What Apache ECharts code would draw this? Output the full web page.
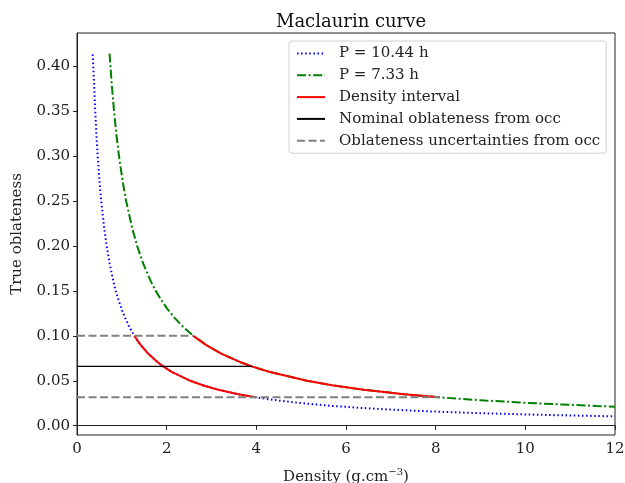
<!DOCTYPE html>
<html>
<head>
<meta charset="utf-8">
<script src="https://cdn.jsdelivr.net/npm/echarts@6/dist/echarts.min.js"></script>
<style>html,body{margin:0;padding:0;background:#fff}#c{width:625px;height:483px}</style>
</head>
<body>
<div id="c"></div>
<script>
// P = 10.44 h curve: [density, oblateness]
const densityP1044 = [0.35,0.3817,0.4071,0.4373,0.4613,0.5053,0.5404,0.6062,0.6612,0.7292,0.8144,0.866,0.925,0.993,1.0724,1.1663,1.279,1.4182,1.5906,1.8142,1.922,2.1123,2.5296,2.805,3.152,3.599,3.982,4.491,5.029,5.709,6.279,6.976,7.849,8.966,10.443,12];
const oblatenessP1044 = [0.413,0.38,0.35,0.32,0.30,0.27,0.25,0.22,0.20,0.18,0.16,0.15,0.14,0.13,0.12,0.11,0.10,0.09,0.08,0.07,0.066,0.06,0.05,0.045,0.04,0.035,0.0316,0.028,0.025,0.022,0.02,0.018,0.016,0.014,0.012,0.01044];
// P = 7.33 h curve
const densityP733 = [0.7255,0.7744,0.8259,0.8871,0.9358,1.025,1.0962,1.2298,1.3413,1.4793,1.6521,1.7568,1.8764,2.0145,2.1756,2.3661,2.5947,2.8771,3.2269,3.6803,3.8994,4.285,5.1316,5.69,6.395,7.301,8.079,9.11,10.201,11.581,12];
const oblatenessP733 = [0.414,0.38,0.35,0.32,0.30,0.27,0.25,0.22,0.20,0.18,0.16,0.15,0.14,0.13,0.12,0.11,0.10,0.09,0.08,0.07,0.066,0.06,0.05,0.045,0.04,0.035,0.0316,0.028,0.025,0.022,0.02123];
// occultation oblateness
const oblNominal = 0.066;
const oblUpper = 0.10;
const oblLower = 0.0316;
const nominalEnd = 3.90;
const upperEnd = 2.5947;
const lowerEnd = 8.079;
const xTicks = [0,2,4,6,8,10,12];
const yTicks = [0,0.05,0.10,0.15,0.20,0.25,0.30,0.35,0.40];

const zip = (xs, ys) => xs.map((x, i) => [x, ys[i]]);
const blue = zip(densityP1044, oblatenessP1044);
const green = zip(densityP733, oblatenessP733);
const inInterval = p => p[1] <= oblUpper + 1e-9 && p[1] >= oblLower - 1e-9;

const FONT = 'DejaVu Serif';
const FS = 15;
const chart = echarts.init(document.getElementById('c'), null, {renderer: 'canvas'});
chart.setOption({
  animation: false,
  backgroundColor: '#fff',
  title: {
    text: 'Maclaurin curve', left: 346, top: 8, textAlign: 'center',
    textStyle: {fontFamily: FONT, fontSize: 18, fontWeight: 'normal', color: '#111'}
  },
  grid: {left: 77, right: 10, top: 33, bottom: 48, show: true, borderColor: '#222', borderWidth: 1,
    backgroundColor: 'transparent', containLabel: false, outerBoundsMode: 'none'},
  legend: {
    orient: 'vertical', left: 289, top: 41,
    padding: [5, 6, 5, 7],
    itemWidth: 28, itemHeight: 14, itemGap: 6.8,
    borderColor: '#d0d0d0', borderWidth: 1, borderRadius: 3,
    backgroundColor: 'rgba(255,255,255,0.85)',
    itemStyle: {opacity: 0, borderWidth: 0},
    textStyle: {fontFamily: FONT, fontSize: FS, lineHeight: 14, color: '#222', padding: [0, 0, 0, 9]},
    data: ['P = 10.44 h', 'P = 7.33 h', 'Density interval', 'Nominal oblateness from occ', 'Oblateness uncertainties from occ']
  },
  xAxis: {
    type: 'value', min: 0, max: 12, interval: 2,
    name: 'Density (g.cm{sup|\u22123})', nameLocation: 'middle', nameGap: 32,
    nameTextStyle: {fontFamily: FONT, fontSize: FS, color: '#222',
      rich: {sup: {fontFamily: FONT, fontSize: 10, color: '#222', padding: [0, 0, 10, 0]}}},
    axisLine: {show: true, lineStyle: {color: '#222', width: 1}},
    axisTick: {show: true, length: 4, lineStyle: {color: '#222'}},
    axisLabel: {fontFamily: FONT, fontSize: FS, color: '#222', margin: 7, customValues: xTicks},
    splitLine: {show: false}
  },
  yAxis: {
    type: 'value', min: -0.0103, max: 0.4368,
    name: 'True oblateness', nameLocation: 'middle', nameGap: 52,
    nameTextStyle: {fontFamily: FONT, fontSize: FS, color: '#222'},
    axisLine: {show: true, lineStyle: {color: '#222', width: 1}},
    axisTick: {show: true, length: 4, lineStyle: {color: '#222'}, customValues: yTicks},
    axisLabel: {fontFamily: FONT, fontSize: FS, color: '#222', margin: 7, customValues: yTicks, formatter: v => v.toFixed(2)},
    splitLine: {show: false}
  },
  series: [
    {name: 'P = 10.44 h', type: 'line', data: blue, symbol: 'none', clip: true,
      itemStyle: {color: '#0000ff'},
      lineStyle: {color: '#0000ff', width: 2, type: [1.5, 2.6], cap: 'butt'}, z: 2},
    {name: 'P = 7.33 h', type: 'line', data: green, symbol: 'none', clip: true,
      itemStyle: {color: '#008000'},
      lineStyle: {color: '#008000', width: 2, type: [9, 2.6, 2, 2.6]}, z: 2},
    {name: 'Density interval', type: 'line', data: blue.filter(inInterval), symbol: 'none',
      itemStyle: {color: '#ff0000'},
      lineStyle: {color: '#ff0000', width: 2, type: 'solid'}, z: 3},
    {name: 'Density interval', type: 'line', data: green.filter(inInterval), symbol: 'none',
      itemStyle: {color: '#ff0000'},
      lineStyle: {color: '#ff0000', width: 2, type: 'solid'}, z: 3},
    {name: 'Nominal oblateness from occ', type: 'line', data: [[0, oblNominal], [nominalEnd, oblNominal]], symbol: 'none',
      itemStyle: {color: '#000'},
      lineStyle: {color: '#000', width: 1.3, type: 'solid'}, z: 4},
    {name: 'Oblateness uncertainties from occ', type: 'line', data: [[0, oblUpper], [upperEnd, oblUpper]], symbol: 'none',
      itemStyle: {color: '#808080'},
      lineStyle: {color: '#808080', width: 2, type: [8, 3.5]}, z: 4},
    {name: 'Oblateness uncertainties from occ', type: 'line', data: [[0, oblLower], [lowerEnd, oblLower]], symbol: 'none',
      itemStyle: {color: '#808080'},
      lineStyle: {color: '#808080', width: 2, type: [8, 3.5]}, z: 4}
  ]
});
</script>
</body>
</html>
